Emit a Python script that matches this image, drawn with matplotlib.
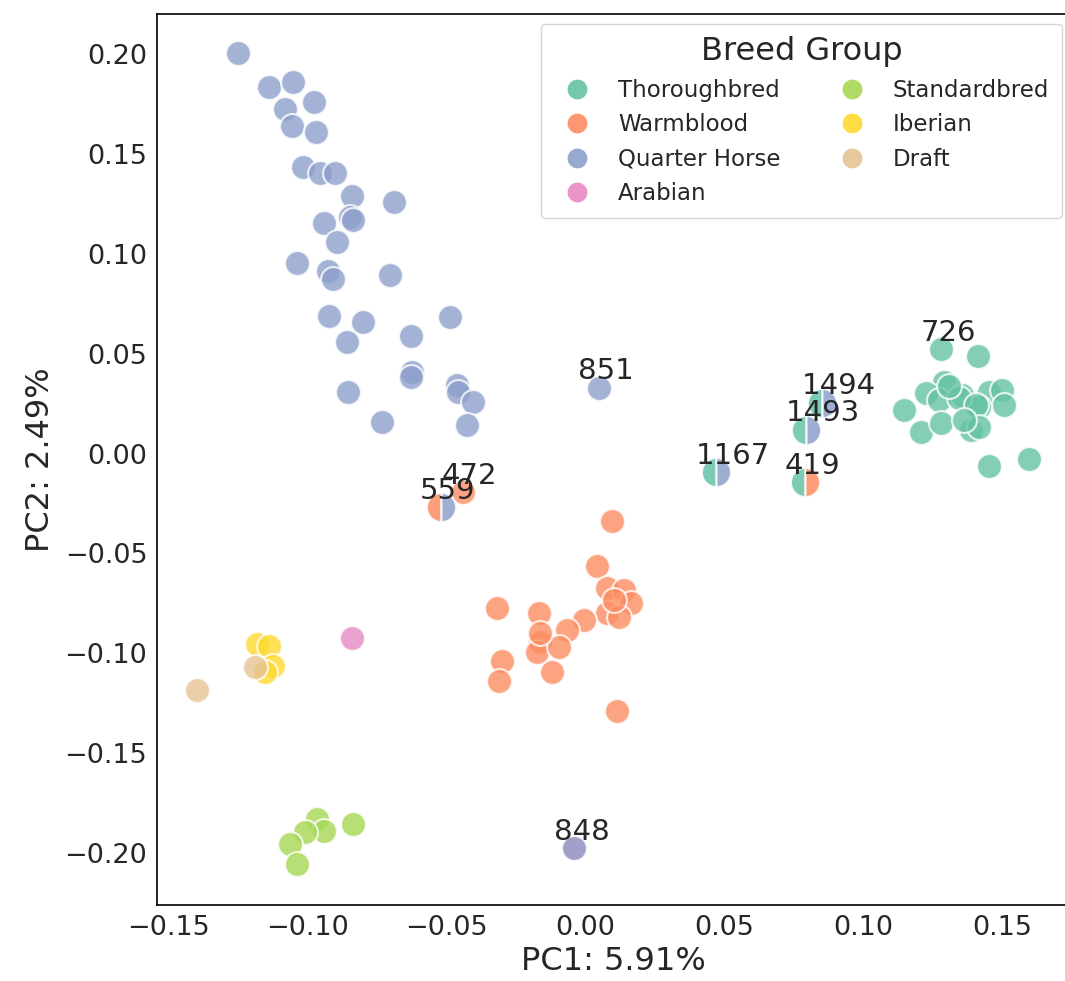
import matplotlib
matplotlib.use("Agg")
import matplotlib.pyplot as plt
from matplotlib.lines import Line2D
import seaborn as sns

# ------------------------------------------------------------------------------
# data (PC1, PC2)
groups = ["Thoroughbred", "Warmblood", "Quarter Horse", "Arabian",
          "Standardbred", "Iberian", "Draft"]

tb_x = [0.1281, 0.1414, 0.1291, 0.1227, 0.1147, 0.1273, 0.1356, 0.1453, 0.1500,
        0.1507, 0.1417, 0.1345, 0.1406, 0.1209, 0.1281, 0.1388, 0.1417, 0.1453,
        0.1597, 0.1309, 0.1363]
tb_y = [0.0521, 0.0490, 0.0360, 0.0305, 0.0220, 0.0270, 0.0295, 0.0310, 0.0320,
        0.0245, 0.0235, 0.0280, 0.0245, 0.0110, 0.0155, 0.0120, 0.0135, -0.0065,
        -0.0030, 0.0340, 0.0170]

wb_x = [0.0097, 0.0040, 0.0076, 0.0140, 0.0165, 0.0076, 0.0122, -0.0004, -0.0065,
        -0.0169, -0.0165, -0.0176, -0.0094, -0.0119, -0.0317, -0.0302, -0.0313,
        0.0112, -0.0165, 0.0104, -0.0442]
wb_y = [-0.0340, -0.0561, -0.0671, -0.0681, -0.0746, -0.0796, -0.0816, -0.0831,
        -0.0881, -0.0796, -0.0946, -0.0996, -0.0971, -0.1096, -0.0771, -0.1041,
        -0.1141, -0.1291, -0.0896, -0.0731, -0.0195]

qh_x = [-0.1252, -0.1140, -0.1054, -0.0978, -0.1083, -0.1058, -0.0971, -0.1018,
        -0.0957, -0.0903, -0.0842, -0.0691, -0.0942, -0.0849, -0.0838, -0.0896,
        -0.1040, -0.0928, -0.0910, -0.0705, -0.0924, -0.0802, -0.0860, -0.0489,
        -0.0629, -0.0626, -0.0629, -0.0856, -0.0734, -0.0464, -0.0460, -0.0406,
        -0.0428, 0.0047]
qh_y = [0.2007, 0.1837, 0.1862, 0.1762, 0.1722, 0.1637, 0.1607, 0.1436, 0.1406,
        0.1406, 0.1291, 0.1261, 0.1156, 0.1186, 0.1171, 0.1061, 0.0956, 0.0916,
        0.0876, 0.0896, 0.0686, 0.0656, 0.0556, 0.0681, 0.0586, 0.0410, 0.0385,
        0.0310, 0.0160, 0.0345, 0.0310, 0.0260, 0.0145, 0.0330]

ar_x = [-0.0842]
ar_y = [-0.0921]

sb_x = [-0.0968, -0.0942, -0.0838, -0.1011, -0.1065, -0.1040]
sb_y = [-0.1832, -0.1892, -0.1857, -0.1897, -0.1957, -0.2057]

ib_x = [-0.1183, -0.1140, -0.1126, -0.1155]
ib_y = [-0.0956, -0.0966, -0.1066, -0.1096]

dr_x = [-0.1399, -0.1191]
dr_y = [-0.1186, -0.1071]

group_x = [tb_x, wb_x, qh_x, ar_x, sb_x, ib_x, dr_x]
group_y = [tb_y, wb_y, qh_y, ar_y, sb_y, ib_y, dr_y]

# samples with mixed membership: drawn half/half (left group, right group)
split_ids = ["1494", "1493", "1167", "419", "559"]
split_x = [0.0853, 0.0795, 0.0471, 0.0791, -0.0522]
split_y = [0.0255, 0.0120, -0.0095, -0.0145, -0.0270]
split_left = ["Thoroughbred", "Thoroughbred", "Thoroughbred", "Thoroughbred", "Warmblood"]
split_right = ["Quarter Horse", "Quarter Horse", "Quarter Horse", "Warmblood", "Quarter Horse"]

# sample drawn on top of itself in two groups
stack_id = "848"
stack_x = -0.0040
stack_y = -0.1977
stack_groups = ["Arabian", "Quarter Horse"]

label_ids = ["726", "851", "472"]
label_x = [0.1281, 0.0047, -0.0442]
label_y = [0.0521, 0.0330, -0.0195]

# ------------------------------------------------------------------------------
sns.set_style("white")
plt.rcParams["font.family"] = ["DejaVu Sans"]
palette = dict(zip(groups, sns.color_palette("Set2", len(groups))))

fig = plt.figure(figsize=(10.65, 9.81), dpi=100)
ax = fig.add_axes([157 / 1065, 76 / 981, 913 / 1065, 891 / 981])

pt_size = 320
pt_alpha = 0.8
edge_lw = 1.5

for g, xs, ys in zip(groups, group_x, group_y):
    ax.scatter(xs, ys, s=pt_size, color=palette[g], alpha=pt_alpha,
               edgecolor="white", linewidth=edge_lw, zorder=2)

for g in stack_groups:
    ax.scatter([stack_x], [stack_y], s=pt_size, color=palette[g], alpha=pt_alpha,
               edgecolor="white", linewidth=edge_lw, zorder=3)

for sx, sy, gl, gr in zip(split_x, split_y, split_left, split_right):
    ax.plot([sx], [sy], "o", ms=21, fillstyle="left",
            markerfacecolor=palette[gl], markerfacecoloralt=palette[gr],
            markeredgecolor="white", markeredgewidth=edge_lw, alpha=0.85, zorder=3)

# sample labels
all_ids = label_ids + split_ids + [stack_id]
all_x = label_x + split_x + [stack_x]
all_y = label_y + split_y + [stack_y]
for lab, lx, ly in zip(all_ids, all_x, all_y):
    ax.annotate(lab, (lx, ly), xytext=(-15, 6), textcoords="offset points",
                ha="left", va="baseline", fontsize=21, color="#262626", zorder=5)

ax.set_xlim(-0.1543, 0.1745)
ax.set_ylim(-0.226, 0.220)
ax.set_xticks([-0.15, -0.10, -0.05, 0.00, 0.05, 0.10, 0.15])
ax.set_yticks([-0.20, -0.15, -0.10, -0.05, 0.00, 0.05, 0.10, 0.15, 0.20])
ax.tick_params(labelsize=19.5, colors="#262626")
ax.set_xlabel("PC1: 5.91%", fontsize=23, color="#262626", labelpad=4)
ax.set_ylabel("PC2: 2.49%", fontsize=23, color="#262626", labelpad=6)
for sp in ax.spines.values():
    sp.set_color("black")
    sp.set_linewidth(1.2)

handles = [Line2D([], [], marker="o", linestyle="none", markersize=15,
                  markerfacecolor=palette[g], markeredgecolor="white",
                  markeredgewidth=0.8, alpha=0.9, label=g) for g in groups]
ax.legend(handles=handles, title="Breed Group", ncol=2, loc="upper right",
          bbox_to_anchor=(0.991, 0.989), borderaxespad=0, fontsize=16.5,
          title_fontsize=23, frameon=True, labelspacing=0.5, columnspacing=2.1,
          borderpad=0.55)

fig.savefig("out.png", dpi=100)
